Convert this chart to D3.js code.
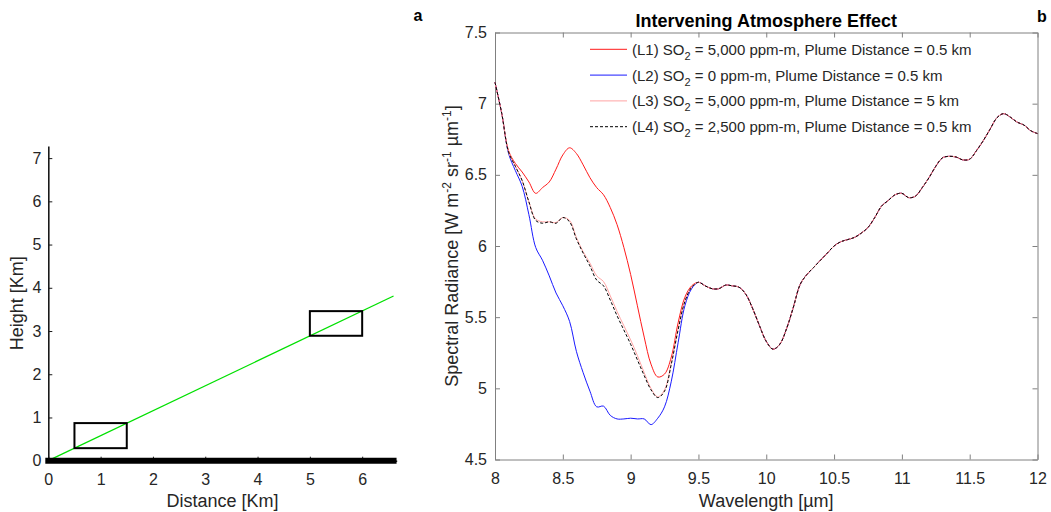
<!DOCTYPE html>
<html>
<head>
<meta charset="utf-8">
<script src="https://cdn.jsdelivr.net/npm/d3@7"></script>
<style>
  html, body { margin: 0; padding: 0; background: #fff; }
  svg { display: block; font-family: "Liberation Sans", Arial, Helvetica, sans-serif; }
</style>
</head>
<body>
<svg id="fig" width="1051" height="512"></svg>
<script>
// ---------- panel a: viewing geometry ----------
const groundX = [0, 6.6];                 // ground line, km
const beamPath = [[0, 0], [6.6, 3.81]];   // line of sight (30 deg elevation)
const plumeBoxes = [
  { x0: 0.5, x1: 1.5, y0: 0.29, y1: 0.87 },
  { x0: 5.0, x1: 6.0, y0: 2.89, y1: 3.46 }
];
const distTicks = [0, 1, 2, 3, 4, 5, 6];
const heightTicks = [0, 1, 2, 3, 4, 5, 6, 7];

// ---------- panel b: spectral radiance ----------
const wavelength = [
  8.00, 8.05, 8.10, 8.15, 8.20, 8.25, 8.30, 8.35, 8.40, 8.45,
  8.50, 8.55, 8.60, 8.65, 8.70, 8.75, 8.80, 8.85, 8.90, 8.95,
  9.00, 9.05, 9.10, 9.15, 9.20, 9.25, 9.30, 9.35, 9.40, 9.45,
  9.50, 9.55, 9.60, 9.65, 9.70, 9.75, 9.80, 9.85, 9.90, 9.95,
  10.00, 10.05, 10.10, 10.15, 10.20, 10.25, 10.30, 10.35, 10.40, 10.45,
  10.50, 10.55, 10.60, 10.65, 10.70, 10.75, 10.80, 10.85, 10.90, 10.95,
  11.00, 11.05, 11.10, 11.15, 11.20, 11.25, 11.30, 11.35, 11.40, 11.45,
  11.50, 11.55, 11.60, 11.65, 11.70, 11.75, 11.80, 11.85, 11.90, 11.95,
  12.00
];

// 8.00 - 9.45 um, where the SO2 band separates the cases
const l1Head = [7.15, 6.93, 6.67, 6.58, 6.52, 6.45, 6.37, 6.41, 6.45, 6.54,
                6.64, 6.69, 6.65, 6.57, 6.48, 6.41, 6.36, 6.27, 6.15, 5.99,
                5.80, 5.58, 5.36, 5.17, 5.08, 5.10, 5.22, 5.46, 5.64, 5.72];
const l2Head = [7.15, 6.93, 6.65, 6.53, 6.42, 6.22, 5.99, 5.90, 5.79, 5.67,
                5.58, 5.47, 5.26, 5.11, 4.98, 4.87, 4.875, 4.81, 4.785, 4.785,
                4.79, 4.785, 4.785, 4.745, 4.79, 4.87, 5.05, 5.32, 5.58, 5.70];
const l3Head = [7.15, 6.93, 6.66, 6.56, 6.46, 6.31, 6.19, 6.17, 6.17, 6.165,
                6.20, 6.18, 6.06, 5.96, 5.88, 5.79, 5.75, 5.65, 5.54, 5.44,
                5.34, 5.23, 5.11, 5.00, 4.94, 4.99, 5.18, 5.42, 5.61, 5.71];
const l4Head = [7.15, 6.93, 6.66, 6.56, 6.46, 6.31, 6.18, 6.16, 6.17, 6.16,
                6.20, 6.17, 6.05, 5.95, 5.86, 5.76, 5.72, 5.62, 5.51, 5.41,
                5.31, 5.20, 5.09, 4.99, 4.935, 4.98, 5.17, 5.41, 5.61, 5.71];
// 9.50 - 12.00 um, identical for all four cases
const sharedTail = [5.745, 5.72, 5.70, 5.70, 5.725, 5.72, 5.71, 5.66, 5.56, 5.44,
                    5.33, 5.275, 5.31, 5.42, 5.57, 5.73, 5.80, 5.85, 5.90, 5.95,
                    6.00, 6.03, 6.045, 6.06, 6.09, 6.13, 6.20, 6.28, 6.32, 6.36,
                    6.37, 6.34, 6.35, 6.41, 6.48, 6.56, 6.62, 6.63, 6.625, 6.605,
                    6.61, 6.67, 6.74, 6.82, 6.90, 6.93, 6.905, 6.87, 6.85, 6.81,
                    6.79];

const seriesIds = ["L1", "L2", "L3", "L4"];
const seriesSO2 = ["5,000", "0", "5,000", "2,500"];
const seriesDist = ["0.5", "0.5", "5", "0.5"];
const seriesValues = [l1Head, l2Head, l3Head, l4Head].map(h => h.concat(sharedTail));
const seriesColor = ["#ff1a1a", "#1a1aff", "#ffa3a3", "#000000"];
const seriesDash = [null, null, null, "3,2"];

const waveTicks = [8, 8.5, 9, 9.5, 10, 10.5, 11, 11.5, 12];
const radTicks = [4.5, 5, 5.5, 6, 6.5, 7, 7.5];

const svg = d3.select("#fig");
const textCol = "#262626";

// ================= panel a =================
const xa = d3.scaleLinear().domain([0, 6.66]).range([48.3, 396.7]);
const ya = d3.scaleLinear().domain([0, 7.28]).range([460.7, 146]);
const ga = svg.append("g");

const axA_x = ga.append("g")
  .attr("transform", `translate(0,${ya(0)})`)
  .call(d3.axisBottom(xa).tickValues(distTicks).tickFormat(d3.format("d"))
        .tickSizeInner(-4).tickSizeOuter(0).tickPadding(13));
const axA_y = ga.append("g")
  .attr("transform", `translate(${xa(0)},0)`)
  .call(d3.axisLeft(ya).tickValues(heightTicks).tickFormat(d3.format("d"))
        .tickSizeInner(-4).tickSizeOuter(0).tickPadding(7));
[axA_x, axA_y].forEach(ax => {
  ax.selectAll("path.domain").attr("stroke", "#1a1a1a").attr("stroke-width", 1.6);
  ax.selectAll(".tick line").attr("stroke", "#1a1a1a");
  ax.selectAll(".tick text").attr("fill", textCol).attr("font-size", 16);
});

// line of sight
ga.append("path")
  .attr("d", d3.line().x(d => xa(d[0])).y(d => ya(d[1]))(beamPath))
  .attr("fill", "none").attr("stroke", "#00e000").attr("stroke-width", 1.3);

// plume boxes
ga.selectAll("rect.plume").data(plumeBoxes).join("rect")
  .attr("class", "plume")
  .attr("x", d => xa(d.x0)).attr("y", d => ya(d.y1))
  .attr("width", d => xa(d.x1) - xa(d.x0)).attr("height", d => ya(d.y0) - ya(d.y1))
  .attr("fill", "none").attr("stroke", "#000").attr("stroke-width", 2);

// ground
ga.append("line")
  .attr("x1", xa(groundX[0])).attr("x2", xa(groundX[1]))
  .attr("y1", ya(0)).attr("y2", ya(0))
  .attr("stroke", "#000").attr("stroke-width", 6).attr("stroke-linecap", "square");

ga.append("text").attr("x", (xa(0) + xa(6.66)) / 2).attr("y", 507)
  .attr("text-anchor", "middle").attr("font-size", 18).attr("fill", textCol)
  .text("Distance [Km]");
ga.append("text")
  .attr("transform", `translate(23,${(ya(0) + ya(7.28)) / 2}) rotate(-90)`)
  .attr("text-anchor", "middle").attr("font-size", 18).attr("fill", textCol)
  .text("Height [Km]");

svg.append("text").attr("x", 418).attr("y", 21).attr("text-anchor", "middle")
  .attr("font-size", 16).attr("font-weight", "bold").text("a");

// ================= panel b =================
const xb = d3.scaleLinear().domain([8, 12]).range([495, 1037.5]);
const yb = d3.scaleLinear().domain([4.5, 7.5]).range([459.5, 32.5]);
const gb = svg.append("g");
const frameCol = "#808080";

const axB = [
  gb.append("g").attr("transform", `translate(0,${yb(4.5)})`)
    .call(d3.axisBottom(xb).tickValues(waveTicks).tickFormat(d => d)
          .tickSizeInner(-5).tickSizeOuter(0).tickPadding(13)),
  gb.append("g").attr("transform", `translate(0,${yb(7.5)})`)
    .call(d3.axisTop(xb).tickValues(waveTicks).tickFormat("")
          .tickSizeInner(-5).tickSizeOuter(0)),
  gb.append("g").attr("transform", `translate(${xb(8)},0)`)
    .call(d3.axisLeft(yb).tickValues(radTicks).tickFormat(d => d)
          .tickSizeInner(-5).tickSizeOuter(0).tickPadding(8)),
  gb.append("g").attr("transform", `translate(${xb(12)},0)`)
    .call(d3.axisRight(yb).tickValues(radTicks).tickFormat("")
          .tickSizeInner(-5).tickSizeOuter(0))
];
axB.forEach(ax => {
  ax.selectAll("path.domain").attr("stroke", frameCol);
  ax.selectAll(".tick line").attr("stroke", frameCol);
  ax.selectAll(".tick text").attr("fill", textCol).attr("font-size", 16);
});

// spectra
const spec = d3.line()
  .x((d, i) => xb(wavelength[i]))
  .y(d => yb(d))
  .curve(d3.curveCatmullRom);
const drawOrder = [1, 0, 2, 3];
gb.selectAll("path.spec").data(drawOrder).join("path")
  .attr("class", "spec")
  .attr("d", i => spec(seriesValues[i]))
  .attr("fill", "none")
  .attr("stroke", i => seriesColor[i])
  .attr("stroke-width", 1)
  .attr("stroke-dasharray", i => seriesDash[i]);

// legend
const leg = gb.append("g");
seriesIds.forEach((id, i) => {
  const y = 49.3 + i * 25.8;
  leg.append("line").attr("x1", 590).attr("x2", 627).attr("y1", y).attr("y2", y)
    .attr("stroke", seriesColor[i]).attr("stroke-width", 1)
    .attr("stroke-dasharray", seriesDash[i]);
  const t = leg.append("text").attr("x", 632).attr("y", y + 5.5)
    .attr("font-size", 15).attr("fill", textCol);
  t.append("tspan").text(`(${id}) SO`);
  t.append("tspan").attr("font-size", 11).attr("dy", 5).text("2");
  t.append("tspan").attr("dy", -5)
    .text(` = ${seriesSO2[i]} ppm-m, Plume Distance = ${seriesDist[i]} km`);
});

// labels
gb.append("text").attr("x", (xb(8) + xb(12)) / 2).attr("y", 507)
  .attr("text-anchor", "middle").attr("font-size", 18).attr("fill", textCol)
  .text("Wavelength [\u00b5m]");

const yl = gb.append("text")
  .attr("transform", `translate(458,${(yb(4.5) + yb(7.5)) / 2}) rotate(-90)`)
  .attr("text-anchor", "middle").attr("font-size", 18).attr("fill", textCol);
yl.append("tspan").text("Spectral Radiance [W m");
yl.append("tspan").attr("font-size", 12).attr("dy", -7).text("-2");
yl.append("tspan").attr("dy", 7).text(" sr");
yl.append("tspan").attr("font-size", 12).attr("dy", -7).text("-1");
yl.append("tspan").attr("dy", 7).text(" \u00b5m");
yl.append("tspan").attr("font-size", 12).attr("dy", -7).text("-1");
yl.append("tspan").attr("dy", 7).text("]");

gb.append("text").attr("x", (xb(8) + xb(12)) / 2).attr("y", 26.5)
  .attr("text-anchor", "middle").attr("font-size", 18).attr("font-weight", "bold")
  .attr("fill", "#000").text("Intervening Atmosphere Effect");

svg.append("text").attr("x", 1042).attr("y", 22).attr("text-anchor", "middle")
  .attr("font-size", 16).attr("font-weight", "bold").text("b");
</script>
</body>
</html>
